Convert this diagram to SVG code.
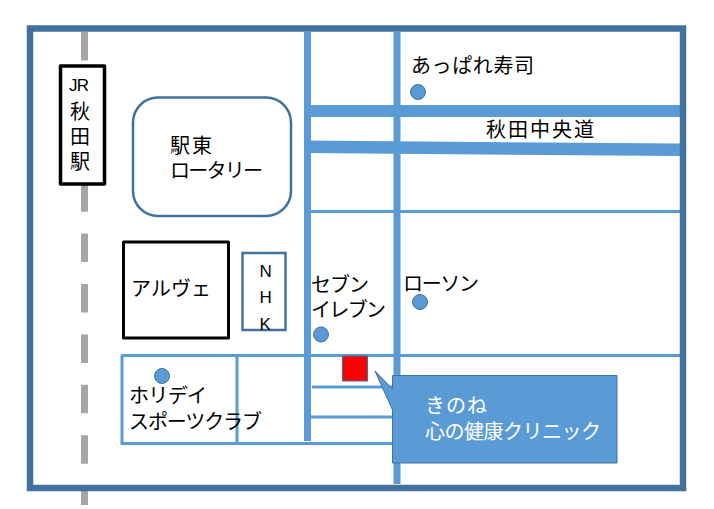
<svg xmlns="http://www.w3.org/2000/svg" width="714" height="509" viewBox="0 0 714 509">
<style>
text{font-family:"Noto Sans CJK JP","Liberation Sans",sans-serif;font-size:20px;fill:#000}
text.lat{font-family:"Liberation Sans",sans-serif;font-size:17px}
text.w{fill:#fff}
.road{fill:#5b9bd5}
.thin{stroke:#5b9bd5;stroke-width:3;fill:none}
.dot{fill:#5b9bd5;stroke:#41719c;stroke-width:1}
.blk{fill:#fff;stroke:#000;stroke-linejoin:round}
.blu{fill:#fff;stroke:#41719c;stroke-width:2.5}
</style>
<rect width="714" height="509" fill="#fff"/>
<g id="connectors">
<path d="M84.500 32V505" stroke="#a6a6a6" stroke-width="7" stroke-dasharray="28.500 21.900" fill="none"/>
<rect class="road" x="304" y="32" width="7" height="409"/>
<rect class="road" x="393.500" y="32" width="7" height="452"/>
<rect class="road" x="304" y="105" width="376" height="12"/>
<polygon class="road" points="304,140.500 680,143.500 680,156 304,153"/>
<path class="thin" d="M311 211.500H680M121 355.500H680M122 355.500V443.500H393M237 355.500V443M312 387H393M311 417H393"/>
</g>
<g id="frame"><rect x="30" y="28.500" width="653" height="459.500" fill="none" stroke="#41719c" stroke-width="6.500"/></g>
<g id="jr"><rect class="blk" x="60.500" y="66" width="44" height="118" stroke-width="3.500"/>
<text class="lat" x="69" y="91" textLength="20">JR</text><text x="70" y="119">秋</text><text x="70" y="144">田</text><text x="70" y="169">駅</text></g>
<g id="rotary"><rect x="133" y="97.500" width="158" height="118.500" rx="25" ry="25" class="blu"/><text x="170" y="153" textLength="42">駅東</text><text x="170" y="178" textLength="93">ロータリー</text></g>
<g id="alve"><rect class="blk" x="123.500" y="242" width="105" height="96" stroke-width="3"/><text x="131" y="296" textLength="80">アルヴェ</text></g>
<g id="nhk"><rect class="blu" x="242.500" y="253" width="43" height="77"/><text class="lat" x="259.500" y="277">N</text><text class="lat" x="259.500" y="303">H</text><text class="lat" x="259.500" y="330">K</text></g>
<g id="appare"><circle class="dot" cx="418" cy="92" r="7.500"/><text x="411" y="73" textLength="123">あっぱれ寿司</text></g>
<g id="chuo"><text x="486" y="137" textLength="108">秋田中央道</text></g>
<g id="seven"><circle class="dot" cx="321" cy="334.500" r="7.500"/><text x="311" y="292" textLength="58">セブン</text><text x="311" y="317" textLength="75">イレブン</text></g>
<g id="lawson"><circle class="dot" cx="420" cy="302" r="7.500"/><text x="403" y="291" textLength="76">ローソン</text></g>
<g id="holiday"><circle class="dot" cx="162" cy="376" r="7.500"/><text x="129" y="403" textLength="78">ホリデイ</text><text x="129" y="429" textLength="133">スポーツクラブ</text></g>
<g id="clinic"><rect x="342.500" y="356" width="25" height="25" fill="#f00" stroke="#41719c" stroke-width="1"/></g>
<g id="callout"><path d="M392.500 375.500H617V463H392.500V410L375 371L392.500 389Z" fill="#5b9bd5" stroke="#41719c" stroke-width="1"/><text class="w" x="425" y="413" textLength="62">きのね</text><text class="w" x="425" y="439" textLength="176">心の健康クリニック</text></g>
</svg>
